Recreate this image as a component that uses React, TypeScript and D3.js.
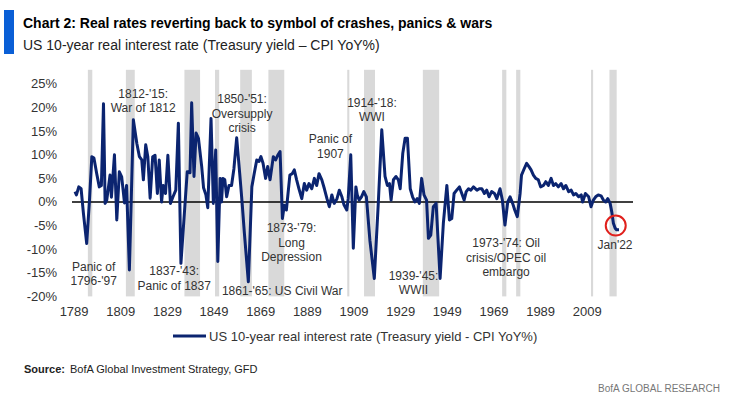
import React from 'react';
import * as d3 from 'd3';

const years = [
  1789.4, 1790, 1791, 1792, 1793, 1794.4, 1795.6, 1796.6, 1797.5, 1798.7, 1799.8, 1800.7, 1801.6, 1802.3, 1803,
  1804.4, 1805, 1806.3, 1807.3, 1808.4, 1809.4, 1810.6, 1811.5, 1812.7, 1814.4, 1815.9, 1817, 1818, 1818.7, 1819.7,
  1820.6, 1821.6, 1822.7, 1823.7, 1824.7, 1825.5, 1826.5, 1827.2, 1828.2, 1829.2, 1830.3, 1831.4, 1832.6, 1833.7,
  1834.8, 1837.5, 1838.7, 1839.4, 1840.4, 1841.3, 1842.3, 1843.7, 1844.5, 1845.5, 1846.3, 1847.7, 1848.7, 1849.7,
  1850.6, 1851.6, 1852.2, 1852.8, 1853.6, 1854.4, 1855.4, 1856.5, 1857.5, 1858.7, 1860, 1861, 1862, 1863.7, 1865.2,
  1866.2, 1867.3, 1868.3, 1869.1, 1870, 1871.1, 1872, 1873, 1874.4, 1875.4, 1876.3, 1877.3, 1878.3, 1879.1, 1880,
  1881.5, 1882.5, 1883.4, 1884.4, 1885.4, 1886.6, 1887.7, 1888.7, 1889.7, 1890.9, 1892, 1893, 1894, 1895.2, 1896.3,
  1897.4, 1898.4, 1899.5, 1900.5, 1901.7, 1902.7, 1903.8, 1904.7, 1905.9, 1906.5, 1907.6, 1908.7, 1909.8, 1910.4,
  1911.2, 1912.2, 1913.2, 1914.3, 1915.8, 1917.7, 1919.4, 1920.9, 1922.3, 1923.3, 1924.2, 1924.9, 1925.9, 1927,
  1928, 1928.8, 1929.9, 1930.9, 1931.9, 1933.1, 1934.1, 1935.1, 1936.1, 1937, 1938, 1939, 1940.1, 1940.9, 1941.9,
  1943, 1944.2, 1945.9, 1947.3, 1948.8, 1949.9, 1950.9, 1951.9, 1953, 1954.2, 1955.2, 1956.2, 1957.1, 1958.1,
  1959.1, 1960.2, 1961.7, 1962.7, 1963.8, 1964.9, 1965.9, 1966.9, 1968, 1969.2, 1970.2, 1971.6, 1972.6, 1973.7,
  1974.9, 1975.9, 1977, 1977.9, 1979, 1980.2, 1980.8, 1982, 1983, 1984, 1984.9, 1985.9, 1986.9, 1988, 1989, 1990.2,
  1991.2, 1992.3, 1993.5, 1994.5, 1995.5, 1996.6, 1997.8, 1998.8, 1999.8, 2001, 2002.1, 2003.1, 2004.1, 2005.3,
  2006.4, 2007, 2008.2, 2009.6, 2010.6, 2011.6, 2012.6, 2013.7, 2014.9, 2015.9, 2016.9, 2017.8, 2018.8, 2019.5,
  2020.2, 2021, 2021.6, 2022.6,
];

const realRate = [
  2.2, 1.5, 3.2, 2.8, -2.4, -8.8, 0.4, 9.6, 9.3, 6.0, 3.2, 3.5, 20.8, -0.3, 0.4,
  5.7, 1.0, 10.0, -3.8, 6.4, 5.3, -0.2, 3.5, -14.4, 17.4, 12.4, 9.6, 8.9, 4.7, 12.1,
  9.6, 0.8, 9.6, 9.9, 1.8, 8.9, 0.0, 3.5, 1.8, 9.9, -0.3, 1.1, 2.5, 16.7,
  -13.0, 6.4, 6.2, 21.0, 5.4, 14.6, 13.5, 7.5, 3.0, 1.5, -1.2, 17.7, -0.3, 11.0,
  -12.6, 5.0, 0.0, 5.0, 4.7, 1.1, 3.5, 3.5, 7.0, 13.6, 6.0, 0.0, -6.6, -16.9, 3.2,
  6.0, 8.9, 8.6, 9.6, 8.2, 5.0, 7.5, 4.7, 9.6, 8.9, 9.9, 10.7, -3.5, -0.7, -1.7,
  5.7, 6.0, 6.8, 4.7, 2.8, 0.7, 3.9, 2.5, 3.9, 2.8, 5.0, 3.5, 6.0, 4.7, 2.8,
  0.7, -1.0, 1.5, -0.3, 0.7, 2.5, 1.1, -0.6, -1.7, 0.7, 10.0, -9.8, 3.2, 1.5,
  0.4, 1.1, 2.2, 1.1, -8.1, -16.2, -0.3, 15.3, 5.4, 3.5, 3.9, 0.4, 4.7, 5.4,
  4.7, 2.8, 10.3, 13.5, 13.5, 2.8, 1.1, 0.0, 0.7, -0.3, 5.0, 1.5, 0.4, -7.7, -7.0,
  -1.0, -0.3, -16.2, -4.5, 3.5, -3.8, -3.5, 1.8, 2.5, 3.2, 1.8, 0.4, 2.2, 2.8,
  2.5, 3.2, 2.5, 2.8, 2.8, 1.8, 2.5, 1.1, 2.2, 1.8, 0.7, 2.8, 0.4, -4.9,
  0.0, 1.1, -0.3, -1.7, -3.1, 1.8, 5.7, 7.1, 8.2, 7.5, 6.8, 5.7, 5.0, 4.7, 3.2, 3.5,
  4.3, 3.5, 5.0, 3.5, 3.9, 3.2, 3.9, 2.8, 3.5, 2.2, 2.5, 1.5, 1.8, 1.1,
  1.5, 0.0, 1.8, 1.1, -1.0, 0.4, 1.1, 1.5, 1.3, 0.4, 0.0, 0.7, -0.3, -2.1,
  -4.5, -5.6, -5.9, -5.9,
];

// crisis periods (shaded), start/end in years
const crisisStart = [1794.9, 1811.2, 1836.3, 1849.4, 1860.2, 1872.3, 1906.1, 1913.3, 1938.5, 1972.5, 1978.5, 2010.6, 2018.5];
const crisisEnd = [1796.8, 1815.0, 1843.0, 1851.2, 1865.2, 1879.1, 1907.0, 1918.0, 1945.5, 1974.3, 1980.3, 2011.5, 2021.6];

const xTickYears = [1789, 1809, 1829, 1849, 1869, 1889, 1909, 1929, 1949, 1969, 1989, 2009];
const yTicks = [-20, -15, -10, -5, 0, 5, 10, 15, 20, 25];

// annotation text, anchored at (year, value) of its first line
const noteLines = [
  ["1812-'15:", 'War of 1812'],
  ["1850-'51:", 'Oversupply', 'crisis'],
  ['Panic of', "1796-'97"],
  ["1837-'43:", 'Panic of 1837'],
  ["1861-'65: US Civil War"],
  ["1873-'79:", 'Long', 'Depression'],
  ['Panic of', '1907'],
  ["1914-'18:", 'WWI'],
  ["1939-'45:", 'WWII'],
  ["1973-'74: Oil", 'crisis/OPEC oil', 'embargo'],
  ["Jan'22"],
];
const noteYear = [1818.6, 1861, 1797.4, 1831.9, 1878.2, 1882.2, 1898.9, 1916.7, 1934.5, 1974.2, 2020.9];
const noteValue = [22.1, 20.9, -14.6, -15.5, -19.8, -6.4, 12.4, 20.2, -16.5, -9.6, -10];

const W = 731;
const H = 398;
const FONT = "'Liberation Sans', Arial, sans-serif";
const NAVY = '#0b2470';

export default function App() {
  const x = d3.scaleLinear().domain([1788.1, 2028.6]).range([72, 633]);
  const y = d3.scaleLinear().domain([-20, 28]).range([296.4, 69.8]);

  const pts = years.map((yr, i) => [yr, realRate[i]] as [number, number]);
  const line = d3.line<[number, number]>()
    .x(d => x(d[0]))
    .y(d => y(d[1]));

  return (
    <svg width={W} height={H} style={{ position: 'absolute', left: 0, top: 0, background: '#fff' }} fontFamily={FONT}>
      {/* header */}
      <rect x={4} y={10} width={10} height={44} fill="#0a5fd6" />
      <text x={23} y={28} fontSize={14} fontWeight="bold" fill="#000">
        Chart 2: Real rates reverting back to symbol of crashes, panics &amp; wars
      </text>
      <text x={23} y={50} fontSize={14} fill="#222">
        US 10-year real interest rate (Treasury yield – CPI YoY%)
      </text>

      {/* shaded crisis periods */}
      {crisisStart.map((s, i) => (
        <rect key={'b' + i} x={x(s)} y={y(28)} width={x(crisisEnd[i]) - x(s)} height={y(-20) - y(28)} fill="#d9d9d9" />
      ))}

      {/* y axis labels */}
      {yTicks.map(t => (
        <text key={'y' + t} x={57} y={y(t) + 4.5} fontSize={13} textAnchor="end" fill="#333">
          {t}%
        </text>
      ))}

      {/* x axis labels */}
      {xTickYears.map(t => (
        <text key={'x' + t} x={x(t)} y={316} fontSize={13} textAnchor="middle" fill="#333">
          {t}
        </text>
      ))}

      {/* zero line */}
      <line x1={x.range()[0]} x2={x.range()[1]} y1={y(0)} y2={y(0)} stroke="#000" strokeWidth={1.5} />

      {/* series */}
      <path d={line(pts) || ''} fill="none" stroke={NAVY} strokeWidth={3} strokeLinejoin="round" />

      {/* Jan'22 marker */}
      <circle cx={x(2021.2)} cy={y(-5)} r={10} fill="none" stroke="#e0201c" strokeWidth={2} />

      {/* annotations */}
      {noteLines.map((lines, i) => (
        <text key={'n' + i} x={x(noteYear[i])} y={y(noteValue[i])} fontSize={12} textAnchor="middle" fill="#333">
          {lines.map((l, j) => (
            <tspan key={j} x={x(noteYear[i])} dy={j === 0 ? 0 : 14.5}>{l}</tspan>
          ))}
        </text>
      ))}

      {/* legend */}
      <line x1={173} x2={206} y1={336} y2={336} stroke={NAVY} strokeWidth={3} />
      <text x={209} y={340.5} fontSize={13} fill="#333">
        US 10-year real interest rate (Treasury yield - CPI YoY%)
      </text>

      {/* source + footer */}
      <text x={24} y={373} fontSize={11} fill="#222">
        <tspan fontWeight="bold">Source:</tspan>
        <tspan x={70}>BofA Global Investment Strategy, GFD</tspan>
      </text>
      <text x={720} y={392} fontSize={10} textAnchor="end" fill="#777">
        BofA GLOBAL RESEARCH
      </text>
    </svg>
  );
}
